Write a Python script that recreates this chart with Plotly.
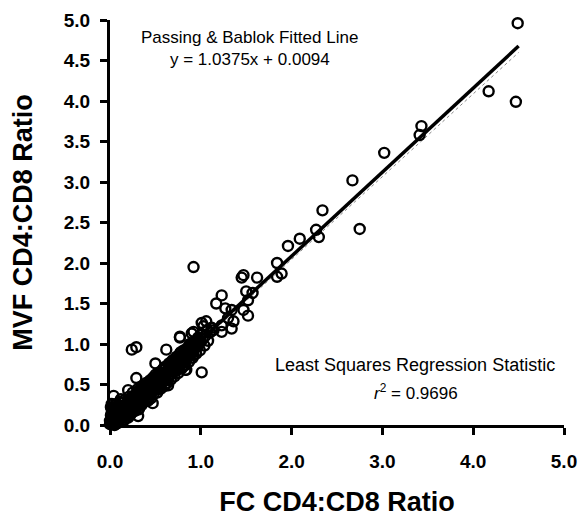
import plotly.graph_objects as go

# Sparse points (FC ratio, MVF ratio)
sparse_x = [4.49, 4.17, 4.47, 3.43, 3.41, 3.02, 2.67, 2.75, 2.34, 2.27, 2.30, 2.09, 1.96,
            0.92, 1.84, 1.89, 1.84, 1.47, 1.45, 1.62, 1.23, 1.17, 1.50, 1.57, 1.52, 1.27,
            1.34, 1.47, 1.52, 1.36, 1.30, 1.23, 1.06, 1.03, 0.92, 0.77, 1.34, 1.23, 1.14,
            0.24, 0.29, 1.01, 0.47, 0.31, 0.04, 0.29, 0.20, 0.50, 0.62, 0.77, 0.90, 0.64,
            0.84, 0.83, 1.01]
sparse_y = [4.96, 4.12, 3.99, 3.69, 3.58, 3.36, 3.02, 2.42, 2.65, 2.41, 2.32, 2.30, 2.21,
            1.95, 2.00, 1.87, 1.83, 1.85, 1.82, 1.82, 1.60, 1.50, 1.65, 1.63, 1.54, 1.44,
            1.42, 1.42, 1.35, 1.28, 1.32, 1.23, 1.28, 1.22, 1.15, 1.08, 1.19, 1.15, 1.17,
            0.93, 0.96, 0.65, 0.27, 0.11, 0.36, 0.58, 0.43, 0.76, 0.93, 1.09, 1.13, 0.49,
            0.68, 0.68, 1.26]

# Dense band near the origin (estimated)
dense_x = [0.00, 0.01, 0.02, 0.03, 0.04, 0.05, 0.05, 0.06, 0.07, 0.08, 0.09, 0.10, 0.10,
           0.11, 0.12, 0.12, 0.13, 0.14, 0.15, 0.16, 0.16, 0.17, 0.18, 0.19, 0.20, 0.20,
           0.21, 0.22, 0.23, 0.24, 0.25, 0.25, 0.26, 0.27, 0.28, 0.29, 0.30, 0.30, 0.31,
           0.32, 0.33, 0.34, 0.35, 0.35, 0.36, 0.37, 0.38, 0.39, 0.40, 0.40, 0.41, 0.42,
           0.43, 0.44, 0.45, 0.45, 0.46, 0.47, 0.48, 0.49, 0.50, 0.50, 0.51, 0.52, 0.53,
           0.54, 0.55, 0.56, 0.57, 0.58, 0.59, 0.60, 0.60, 0.61, 0.62, 0.63, 0.64, 0.65,
           0.66, 0.67, 0.68, 0.69, 0.70, 0.71, 0.72, 0.73, 0.74, 0.75, 0.76, 0.77, 0.78,
           0.79, 0.80, 0.81, 0.82, 0.83, 0.84, 0.85, 0.86, 0.87, 0.88, 0.89, 0.90, 0.91,
           0.92, 0.93, 0.94, 0.95, 0.96, 0.97, 0.98, 0.99, 1.00, 1.01, 1.02, 1.04, 1.05,
           1.07, 1.08, 1.10, 1.12, 0.01, 0.02, 0.06, 0.08, 0.14, 0.18, 0.22, 0.27, 0.33,
           0.38, 0.43, 0.48, 0.53, 0.58, 0.63, 0.68,
           0.03, 0.06, 0.09, 0.11, 0.13, 0.15, 0.17, 0.19, 0.21, 0.23, 0.24, 0.26, 0.28,
           0.30, 0.32, 0.34, 0.36, 0.38, 0.40, 0.42, 0.44, 0.46, 0.48, 0.50, 0.52, 0.54,
           0.56, 0.58, 0.60, 0.62, 0.64, 0.66, 0.68, 0.70, 0.72, 0.74, 0.76, 0.78, 0.80,
           0.82, 0.84, 0.86, 0.88, 0.90, 0.92, 0.95, 0.98, 0.07, 0.12, 0.15, 0.22, 0.26,
           0.31, 0.37, 0.42, 0.47, 0.52, 0.57, 0.62, 0.67, 0.71, 0.76, 0.80, 0.85,
           0.05, 0.10, 0.15, 0.20, 0.25, 0.30, 0.35, 0.40, 0.45, 0.50, 0.55, 0.60, 0.65,
           0.70, 0.75, 0.80, 0.85, 0.90,
           0.04, 0.08, 0.12, 0.17, 0.21, 0.27, 0.33, 0.37, 0.41, 0.46, 0.51, 0.56, 0.61,
           0.66, 0.71, 0.76, 0.81, 0.87,
           0.00, 0.02, 0.01, 0.03, 0.05, 0.08,
           0.07, 0.11, 0.14, 0.18, 0.22, 0.25, 0.29, 0.33, 0.36, 0.39, 0.43, 0.47, 0.50,
           0.53, 0.57, 0.61, 0.65, 0.69, 0.73, 0.77, 0.81, 0.85, 0.09, 0.16, 0.24, 0.31,
           0.39, 0.44, 0.53, 0.59, 0.64, 0.68, 0.73, 0.78, 0.83, 0.88, 0.92, 0.96]
dense_y = [0.01, 0.12, 0.03, 0.08, 0.01, 0.12, 0.05, 0.18, 0.02, 0.10, 0.22, 0.06, 0.14,
           0.28, 0.04, 0.17, 0.10, 0.24, 0.13, 0.07, 0.31, 0.20, 0.12, 0.26, 0.16, 0.09,
           0.35, 0.22, 0.14, 0.30, 0.19, 0.40, 0.25, 0.17, 0.33, 0.22, 0.28, 0.44, 0.36,
           0.20, 0.31, 0.40, 0.25, 0.48, 0.34, 0.29, 0.43, 0.37, 0.30, 0.52, 0.45, 0.35,
           0.40, 0.55, 0.33, 0.47, 0.42, 0.58, 0.38, 0.50, 0.44, 0.62, 0.55, 0.40, 0.49,
           0.65, 0.58, 0.45, 0.53, 0.68, 0.60, 0.48, 0.55, 0.72, 0.64, 0.52, 0.59, 0.76,
           0.68, 0.56, 0.63, 0.80, 0.72, 0.60, 0.68, 0.84, 0.76, 0.64, 0.72, 0.88, 0.80,
           0.70, 0.76, 0.92, 0.84, 0.74, 0.81, 0.95, 0.88, 0.78, 0.86, 0.99, 0.92, 0.83,
           0.90, 1.02, 0.96, 0.88, 0.97, 1.08, 1.00, 0.92, 1.03, 1.12, 1.06, 0.98, 1.10,
           1.17, 1.04, 1.14, 1.20, 0.22, 0.26, 0.08, 0.16, 0.18, 0.22, 0.27, 0.30, 0.36,
           0.40, 0.46, 0.52, 0.57, 0.62, 0.67, 0.72,
           0.04, 0.09, 0.12, 0.11, 0.16, 0.19, 0.15, 0.21, 0.24, 0.23, 0.20, 0.29, 0.27,
           0.33, 0.30, 0.36, 0.39, 0.36, 0.42, 0.44, 0.45, 0.48, 0.47, 0.52, 0.55, 0.53,
           0.59, 0.60, 0.62, 0.66, 0.65, 0.70, 0.69, 0.75, 0.74, 0.79, 0.80, 0.84, 0.85,
           0.88, 0.89, 0.92, 0.94, 0.97, 0.98, 1.01, 1.05, 0.26, 0.32, 0.05, 0.12, 0.36,
           0.19, 0.47, 0.30, 0.52, 0.46, 0.64, 0.55, 0.74, 0.66, 0.84, 0.72, 0.90,
           0.20, 0.24, 0.28, 0.30, 0.34, 0.38, 0.43, 0.47, 0.53, 0.58, 0.63, 0.68, 0.72,
           0.78, 0.82, 0.88, 0.92, 0.98,
           0.06, 0.06, 0.08, 0.11, 0.17, 0.21, 0.26, 0.33, 0.38, 0.40, 0.47, 0.50, 0.58,
           0.62, 0.69, 0.75, 0.80, 0.85,
           0.05, 0.15, 0.08, 0.20, 0.00, 0.02,
           0.14, 0.18, 0.14, 0.19, 0.26, 0.27, 0.31, 0.35, 0.41, 0.42, 0.48, 0.50, 0.55,
           0.58, 0.61, 0.65, 0.69, 0.74, 0.77, 0.81, 0.86, 0.87, 0.04, 0.24, 0.35, 0.42,
           0.49, 0.38, 0.44, 0.70, 0.56, 0.78, 0.67, 0.90, 0.78, 1.00, 0.86, 1.05]

pb_slope = 1.0375
pb_intercept = 0.0094
ls_slope = 1.022
ls_intercept = 0.0
line_x = [0.0, 4.5]

x_ticks = [0.0, 1.0, 2.0, 3.0, 4.0, 5.0]
y_ticks = [0.0, 0.5, 1.0, 1.5, 2.0, 2.5, 3.0, 3.5, 4.0, 4.5, 5.0]

FONT = "Liberation Sans, Arial"

fig = go.Figure()

fig.add_trace(go.Scatter(
    x=line_x, y=[ls_slope * v + ls_intercept for v in line_x],
    mode="lines", line=dict(color="#888888", width=1, dash="dot"),
    showlegend=False, hoverinfo="skip"))

fig.add_trace(go.Scatter(
    x=sparse_x + dense_x, y=sparse_y + dense_y, mode="markers",
    marker=dict(symbol="circle-open", size=10, color="black", line=dict(width=2.4, color="black")),
    cliponaxis=False, showlegend=False))

fig.add_trace(go.Scatter(
    x=line_x, y=[pb_slope * v + pb_intercept for v in line_x],
    mode="lines", line=dict(color="black", width=3.5),
    showlegend=False, hoverinfo="skip"))

axis_common = dict(
    showline=True, linewidth=3, linecolor="black", mirror=False,
    ticks="outside", ticklen=7, tickwidth=3, tickcolor="black",
    showgrid=False, zeroline=False, tickformat=".1f", automargin=False,
    tickfont=dict(family=FONT, size=19, color="black", weight="bold"),
)

fig.update_xaxes(range=[0, 5], tickvals=x_ticks, ticklabelstandoff=10,
                 title=dict(text="FC CD4:CD8 Ratio", standoff=22,
                            font=dict(family=FONT, size=27, color="black", weight="bold")),
                 **axis_common)
fig.update_yaxes(range=[0, 5], tickvals=y_ticks, ticklabelstandoff=6,
                 title=dict(text="MVF CD4:CD8 Ratio", standoff=24,
                            font=dict(family=FONT, size=27, color="black", weight="bold")),
                 **axis_common)

ann_font = dict(family=FONT, size=17, color="black")
fig.add_annotation(x=1.54, y=4.79, text="Passing &amp; Bablok Fitted Line", showarrow=False, font=ann_font)
fig.add_annotation(x=1.54, y=4.51, text="y = 1.0375x + 0.0094", showarrow=False, font=ann_font)
fig.add_annotation(x=3.36, y=0.74, text="Least Squares Regression Statistic", showarrow=False,
                   font=dict(family=FONT, size=18, color="black"))
fig.add_annotation(x=3.37, y=0.41, text="<i>r</i><sup>2</sup> = 0.9696", showarrow=False, font=ann_font)

fig.update_layout(
    width=582, height=517,
    margin=dict(l=110, r=18, t=20, b=92),
    paper_bgcolor="white", plot_bgcolor="white",
)

fig.write_html("out.html")
